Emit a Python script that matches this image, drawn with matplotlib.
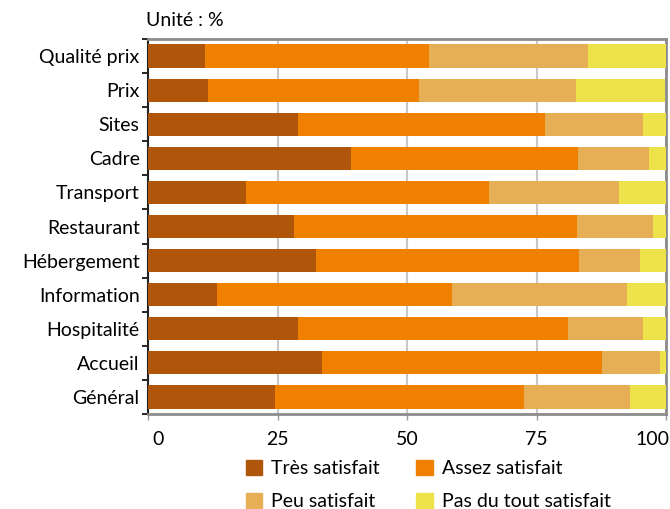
import matplotlib
matplotlib.use("Agg")
import matplotlib.pyplot as plt
import matplotlib.transforms as mtransforms
from matplotlib.patches import Patch
import numpy as np

plt.rcParams['font.family'] = ['Lato', 'DejaVu Sans']

categories = ["Qualité prix", "Prix", "Sites", "Cadre", "Transport", "Restaurant",
              "Hébergement", "Information", "Hospitalité", "Accueil", "Général"]
tres = [11.1, 11.5, 29.0, 39.1, 18.9, 28.1, 32.4, 13.3, 28.9, 33.5, 24.6]
assez = [43.1, 40.9, 47.6, 43.9, 47.0, 54.7, 50.8, 45.3, 52.1, 54.1, 47.9]
peu = [30.7, 30.2, 18.9, 13.7, 25.0, 14.7, 11.7, 33.8, 14.5, 11.2, 20.5]
pas = [15.1, 17.3, 4.5, 3.3, 9.1, 2.5, 5.1, 7.6, 4.5, 1.2, 7.0]
series_names = ["Très satisfait", "Assez satisfait", "Peu satisfait", "Pas du tout satisfait"]
colors = ["#B0560B", "#EF8000", "#E6AF55", "#EDE24A"]
xticks = [0, 25, 50, 75, 100]

FS = 14

fig = plt.figure(figsize=(6.7, 5.09), dpi=100)
ax = fig.add_axes([148/670, 1 - 414/509, (666-148)/670, (414-39)/509])

y = np.arange(len(categories))
left = np.zeros(len(categories))
for vals, col, name in zip([tres, assez, peu, pas], colors, series_names):
    ax.barh(y, vals, left=left, height=0.68, color=col, label=name, zorder=3)
    left += np.array(vals)

ax.set_ylim(len(categories) - 0.5, -0.5)
ax.set_xlim(0, 100)
ax.set_yticks(y)
ax.set_yticklabels(categories, fontsize=FS)
ax.set_yticks(np.arange(len(categories) + 1) - 0.5, minor=True)
ax.tick_params(axis='y', which='major', length=0, pad=6)
ax.tick_params(axis='y', which='minor', length=4, width=1.2, color='black', direction='out')
ax.set_xticks(xticks)
ax.set_xticklabels([str(t) for t in xticks], fontsize=FS)
ax.tick_params(axis='x', length=4, width=1, color='#999999', pad=8)
lbls = ax.get_xticklabels()
lbls[0].set_transform(lbls[0].get_transform() + mtransforms.ScaledTranslation(0.10, 0, fig.dpi_scale_trans))
lbls[-1].set_transform(lbls[-1].get_transform() + mtransforms.ScaledTranslation(-0.14, 0, fig.dpi_scale_trans))

ax.grid(axis='x', color='#c8c8c8', linewidth=1.5, zorder=0)
ax.set_axisbelow(True)
for s in ['top', 'right', 'bottom']:
    ax.spines[s].set_color('#8c8c8c')
    ax.spines[s].set_linewidth(2)
ax.spines['left'].set_color('#222222')
ax.spines['left'].set_linewidth(1.5)

fig.text(146/670, 1 - 21/509, "Unité : %", fontsize=FS, va='center', ha='left')

handles = [Patch(color=c) for c in colors]
order = [0, 2, 1, 3]
fig.legend([handles[i] for i in order], [series_names[i] for i in order],
           ncol=2, loc='center', bbox_to_anchor=(428/670, 1 - 485/509),
           frameon=False, fontsize=FS, handlelength=0.85, handleheight=0.85,
           handletextpad=0.45, columnspacing=1.9, labelspacing=0.8,
           borderpad=0, borderaxespad=0)

fig.savefig("out.png", dpi=100)
